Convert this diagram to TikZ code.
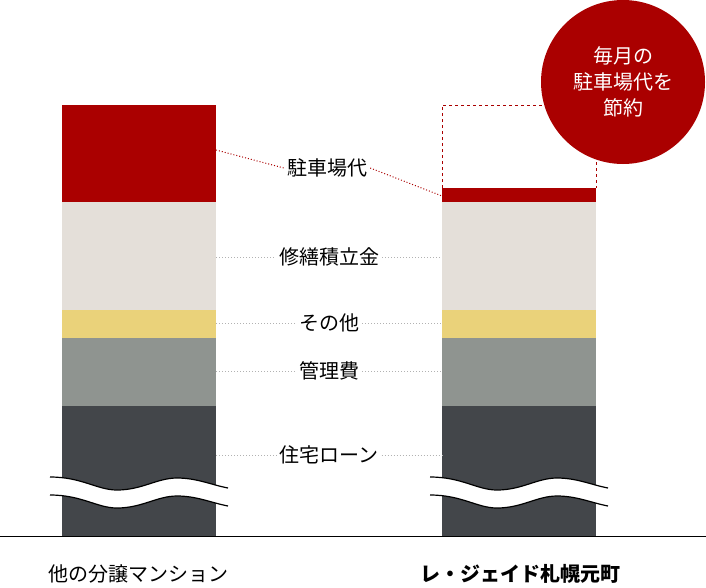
\documentclass[tikz,border=0pt]{standalone}
\usepackage{fontspec}
\setmainfont{Noto Sans CJK JP}
\usetikzlibrary{positioning}
\definecolor{parkred}{HTML}{AA0000}
\definecolor{repair}{HTML}{E4DFD9}
\definecolor{other}{HTML}{EAD27A}
\definecolor{manage}{HTML}{8F9490}
\definecolor{loan}{HTML}{43464A}
\tikzset{lbl/.style={font=\fontsize{20}{22}\selectfont,fill=white,inner sep=3pt}}
\tikzset{guide/.style={draw=gray!60,dotted,line width=1pt}}
\begin{document}
\begin{tikzpicture}[x=1pt,y=-1pt]
    \useasboundingbox (0,0) rectangle (706,587);
    % bars
    \foreach \x/\top in {62/105,442/188} {
        \fill[parkred] (\x,\top) rectangle (\x+154,202);
        \fill[repair] (\x,202) rectangle (\x+154,310);
        \fill[other] (\x,310) rectangle (\x+154,338);
        \fill[manage] (\x,338) rectangle (\x+154,406);
        \fill[loan] (\x,406) rectangle (\x+154,536);
        % break
        \path[fill=white] (\x-12,477) .. controls (\x+20,477) and (\x+35,490) .. (\x+55,490)
            .. controls (\x+80,490) and (\x+95,478) .. (\x+115,478)
            .. controls (\x+135,478) and (\x+150,485) .. (\x+166,488)
            -- (\x+166,506) .. controls (\x+150,503) and (\x+135,496) .. (\x+115,496)
            .. controls (\x+95,496) and (\x+80,508) .. (\x+55,508)
            .. controls (\x+35,508) and (\x+20,495) .. (\x-12,495) -- cycle;
        \draw[line width=1.2pt] (\x-12,477) .. controls (\x+20,477) and (\x+35,490) .. (\x+55,490)
            .. controls (\x+80,490) and (\x+95,478) .. (\x+115,478)
            .. controls (\x+135,478) and (\x+150,485) .. (\x+166,488);
        \draw[line width=1.2pt] (\x-12,495) .. controls (\x+20,495) and (\x+35,508) .. (\x+55,508)
            .. controls (\x+80,508) and (\x+95,496) .. (\x+115,496)
            .. controls (\x+135,496) and (\x+150,503) .. (\x+166,506);
    }
    \draw[parkred,dashed,line width=1pt] (442,188) -- (442,105) -- (596,105) -- (596,188);
    \draw[line width=1pt] (0,536) -- (706,536);

    % guides and labels
    \coordinate (pl) at (216,150);
    \coordinate (pr) at (442,196);
    \node[lbl] (park) at (327,168) {駐車場代};
    \draw[parkred,dotted,line width=1pt] (pl) -- (park.west);
    \draw[parkred,dotted,line width=1pt] (park.east) -- (pr);
    \foreach \y/\name/\txt in {257/repair/修繕積立金,323/other/その他,371/manage/管理費,455/loan/住宅ローン} {
        \coordinate (\name L) at (216,\y);
        \coordinate (\name R) at (442,\y);
        \node[lbl] (\name) at (329,\y) {\txt};
        \draw[guide] (\name L) -- (\name.west);
        \draw[guide] (\name.east) -- (\name R);
    }

    % saving badge
    \node[circle,fill=parkred,minimum size=164pt,text=white,align=center,
          font=\fontsize{20}{26}\selectfont] (badge) at (623,82) {毎月の\\駐車場代を\\節約};

    % captions
    \node[font=\fontsize{20}{22}\selectfont] (capl) at (138,574) {他の分譲マンション};
    \node[font=\fontsize{20}{22}\selectfont\bfseries] (capr) at (520,574) {レ・ジェイド札幌元町};
\end{tikzpicture}
\end{document}
